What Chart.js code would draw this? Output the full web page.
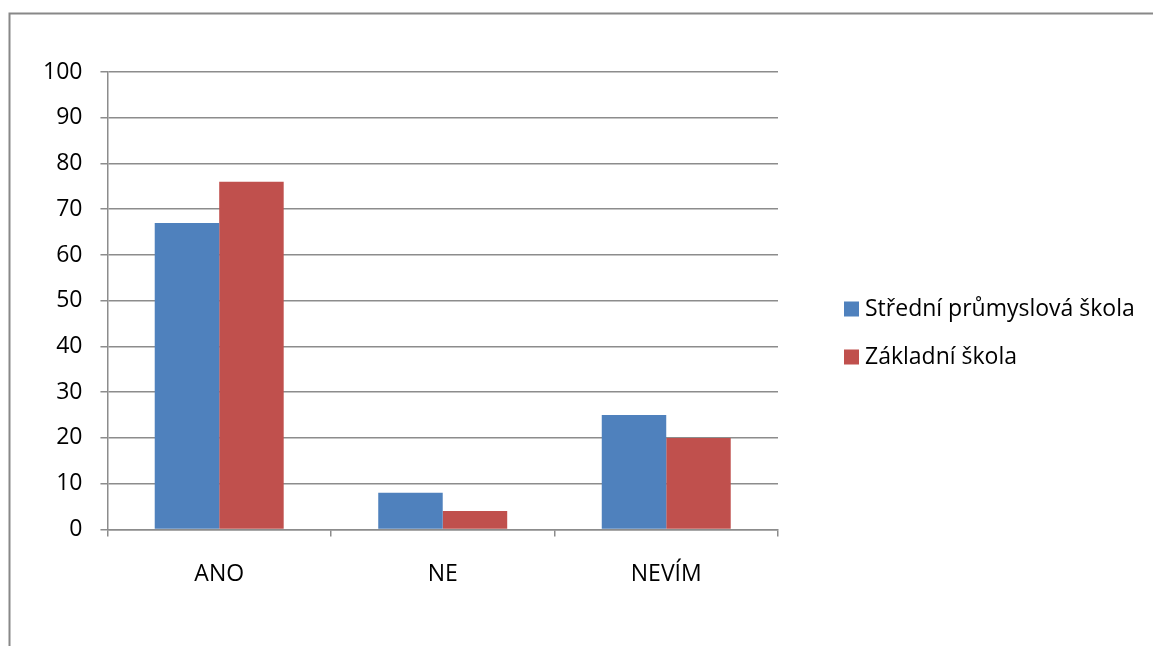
<!DOCTYPE html>
<html>
<head>
<meta charset="utf-8">
<script src="https://cdn.jsdelivr.net/npm/chart.js@4"></script>
<style>
  html, body { margin: 0; padding: 0; background: #fff; }
  #wrap { width: 1153px; height: 646px; }
</style>
</head>
<body>
<div id="wrap"><canvas id="chart" width="1153" height="646"></canvas></div>
<script>
// data
const categories = ['ANO', 'NE', 'NEVÍM'];
const seriesNames = ['Střední průmyslová škola', 'Základní škola'];
const stredniSkola = [67, 8, 25];
const zakladniSkola = [76, 4, 20];
const yTicks = [0, 10, 20, 30, 40, 50, 60, 70, 80, 90, 100];

const gray = '#8c8c8c';

// outer frame (chart border, cut off at right and bottom)
const framePlugin = {
    id: 'frame',
    beforeDraw(chart) {
        const ctx = chart.ctx;
        ctx.save();
        ctx.fillStyle = '#fff';
        ctx.fillRect(0, 0, chart.width, chart.height);
        ctx.strokeStyle = '#888888';
        ctx.lineWidth = 2;
        ctx.strokeRect(9.5, 13.5, 3000, 3000);
        ctx.restore();
    }
};

// legend on the right, drawn from the datasets
const sideLegend = {
    id: 'sideLegend',
    afterDraw(chart) {
        const ctx = chart.ctx;
        const x = chart.chartArea.right + 66;
        ctx.save();
        ctx.font = '23px "Open Sans", sans-serif';
        ctx.textBaseline = 'middle';
        chart.data.datasets.forEach((ds, i) => {
            const y = 309 + i * 48;
            ctx.fillStyle = ds.backgroundColor;
            ctx.fillRect(x, y - 7.5, 15, 15);
            ctx.fillStyle = '#000';
            ctx.fillText(ds.label, x + 21, y);
        });
        ctx.restore();
    }
};

Chart.defaults.font.family = '"Open Sans", sans-serif';
Chart.defaults.font.size = 23;
Chart.defaults.color = '#000';

new Chart(document.getElementById('chart'), {
    type: 'bar',
    data: {
        labels: categories,
        datasets: [
            { label: seriesNames[0], data: stredniSkola, backgroundColor: '#4F81BD' },
            { label: seriesNames[1], data: zakladniSkola, backgroundColor: '#C0504D' }
        ]
    },
    options: {
        responsive: false,
        animation: false,
        devicePixelRatio: 1,
        categoryPercentage: 0.577,
        barPercentage: 1,
        layout: { padding: { top: 72, left: 25, right: 375, bottom: 34 } },
        plugins: {
            legend: { display: false },
            tooltip: { enabled: false }
        },
        scales: {
            x: {
                grid: { drawOnChartArea: false, drawTicks: true, tickLength: 7, color: gray, lineWidth: 1.5 },
                border: { color: gray, width: 1.5 },
                ticks: { padding: 24 }
            },
            y: {
                min: 0,
                max: 100,
                afterBuildTicks(axis) {
                    axis.ticks = yTicks.map(v => ({ value: v }));
                },
                grid: { color: gray, lineWidth: 1.5, tickLength: 7 },
                border: { color: gray, width: 1.5 },
                ticks: { padding: 18 }
            }
        }
    },
    plugins: [framePlugin, sideLegend]
});
</script>
</body>
</html>
